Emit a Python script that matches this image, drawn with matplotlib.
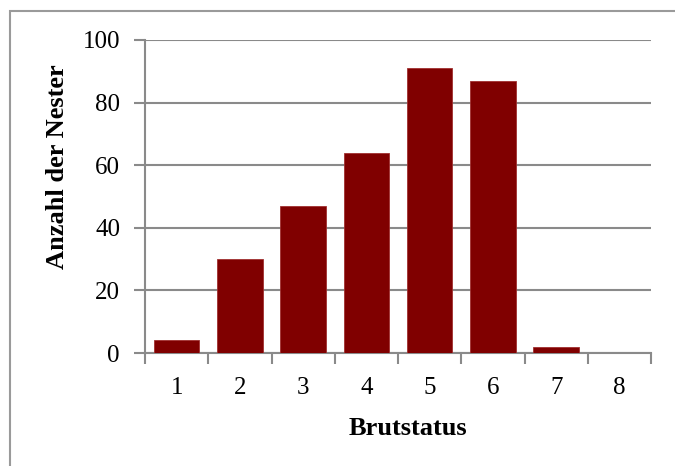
import matplotlib.pyplot as plt
from matplotlib.patches import Rectangle

categories = ['1', '2', '3', '4', '5', '6', '7', '8']
nests = [4, 30, 47, 64, 91, 87, 2, 0]
yticks = [0, 20, 40, 60, 80, 100]

plt.rcParams['font.family'] = ['Liberation Serif', 'DejaVu Serif']

fig = plt.figure(figsize=(6.75, 4.66), dpi=100)
ax = fig.add_axes([145/675, 1 - 353/466, 506/675, 313/466])

grey = '#8a8a8a'
xpos = range(1, len(categories) + 1)
ax.bar(xpos, nests, width=0.72, color='#800000', edgecolor='#a03030', linewidth=0.6, zorder=3)

ax.set_xlim(0.5, 8.5)
ax.set_ylim(0, 100)
ax.set_yticks(yticks)
ax.set_xticks([x + 0.5 for x in range(0, 9)])
ax.set_xticklabels([])
ax.set_xticks(list(xpos), minor=True)
ax.set_xticklabels(categories, minor=True)
ax.tick_params(axis='x', which='minor', length=0, pad=17.5, labelsize=18)
ax.tick_params(axis='x', which='major', length=8, width=1.5, color=grey, direction='out')
ax.tick_params(axis='y', length=8, width=1.5, color=grey, direction='out', pad=10, labelsize=18)

ax.yaxis.grid(True, color=grey, linewidth=1.5, zorder=0)
for s in ['top', 'right']:
    ax.spines[s].set_visible(False)
for s in ['left', 'bottom']:
    ax.spines[s].set_color(grey)
    ax.spines[s].set_linewidth(1.5)

ax.set_ylabel('Anzahl der Nester', fontsize=19, fontweight='bold')
ax.yaxis.set_label_coords(-0.150, 0.596)
ax.set_xlabel('Brutstatus', fontsize=19, fontweight='bold')
ax.xaxis.set_label_coords(0.52, -0.2045)

# outer chart frame
fig.patches.append(Rectangle((9.5/675, -0.1), 1.2, 1 - 10.5/466 + 0.1,
                             transform=fig.transFigure, fill=False,
                             edgecolor='#9a9a9a', linewidth=1.5))

fig.savefig('out.png', dpi=100)
